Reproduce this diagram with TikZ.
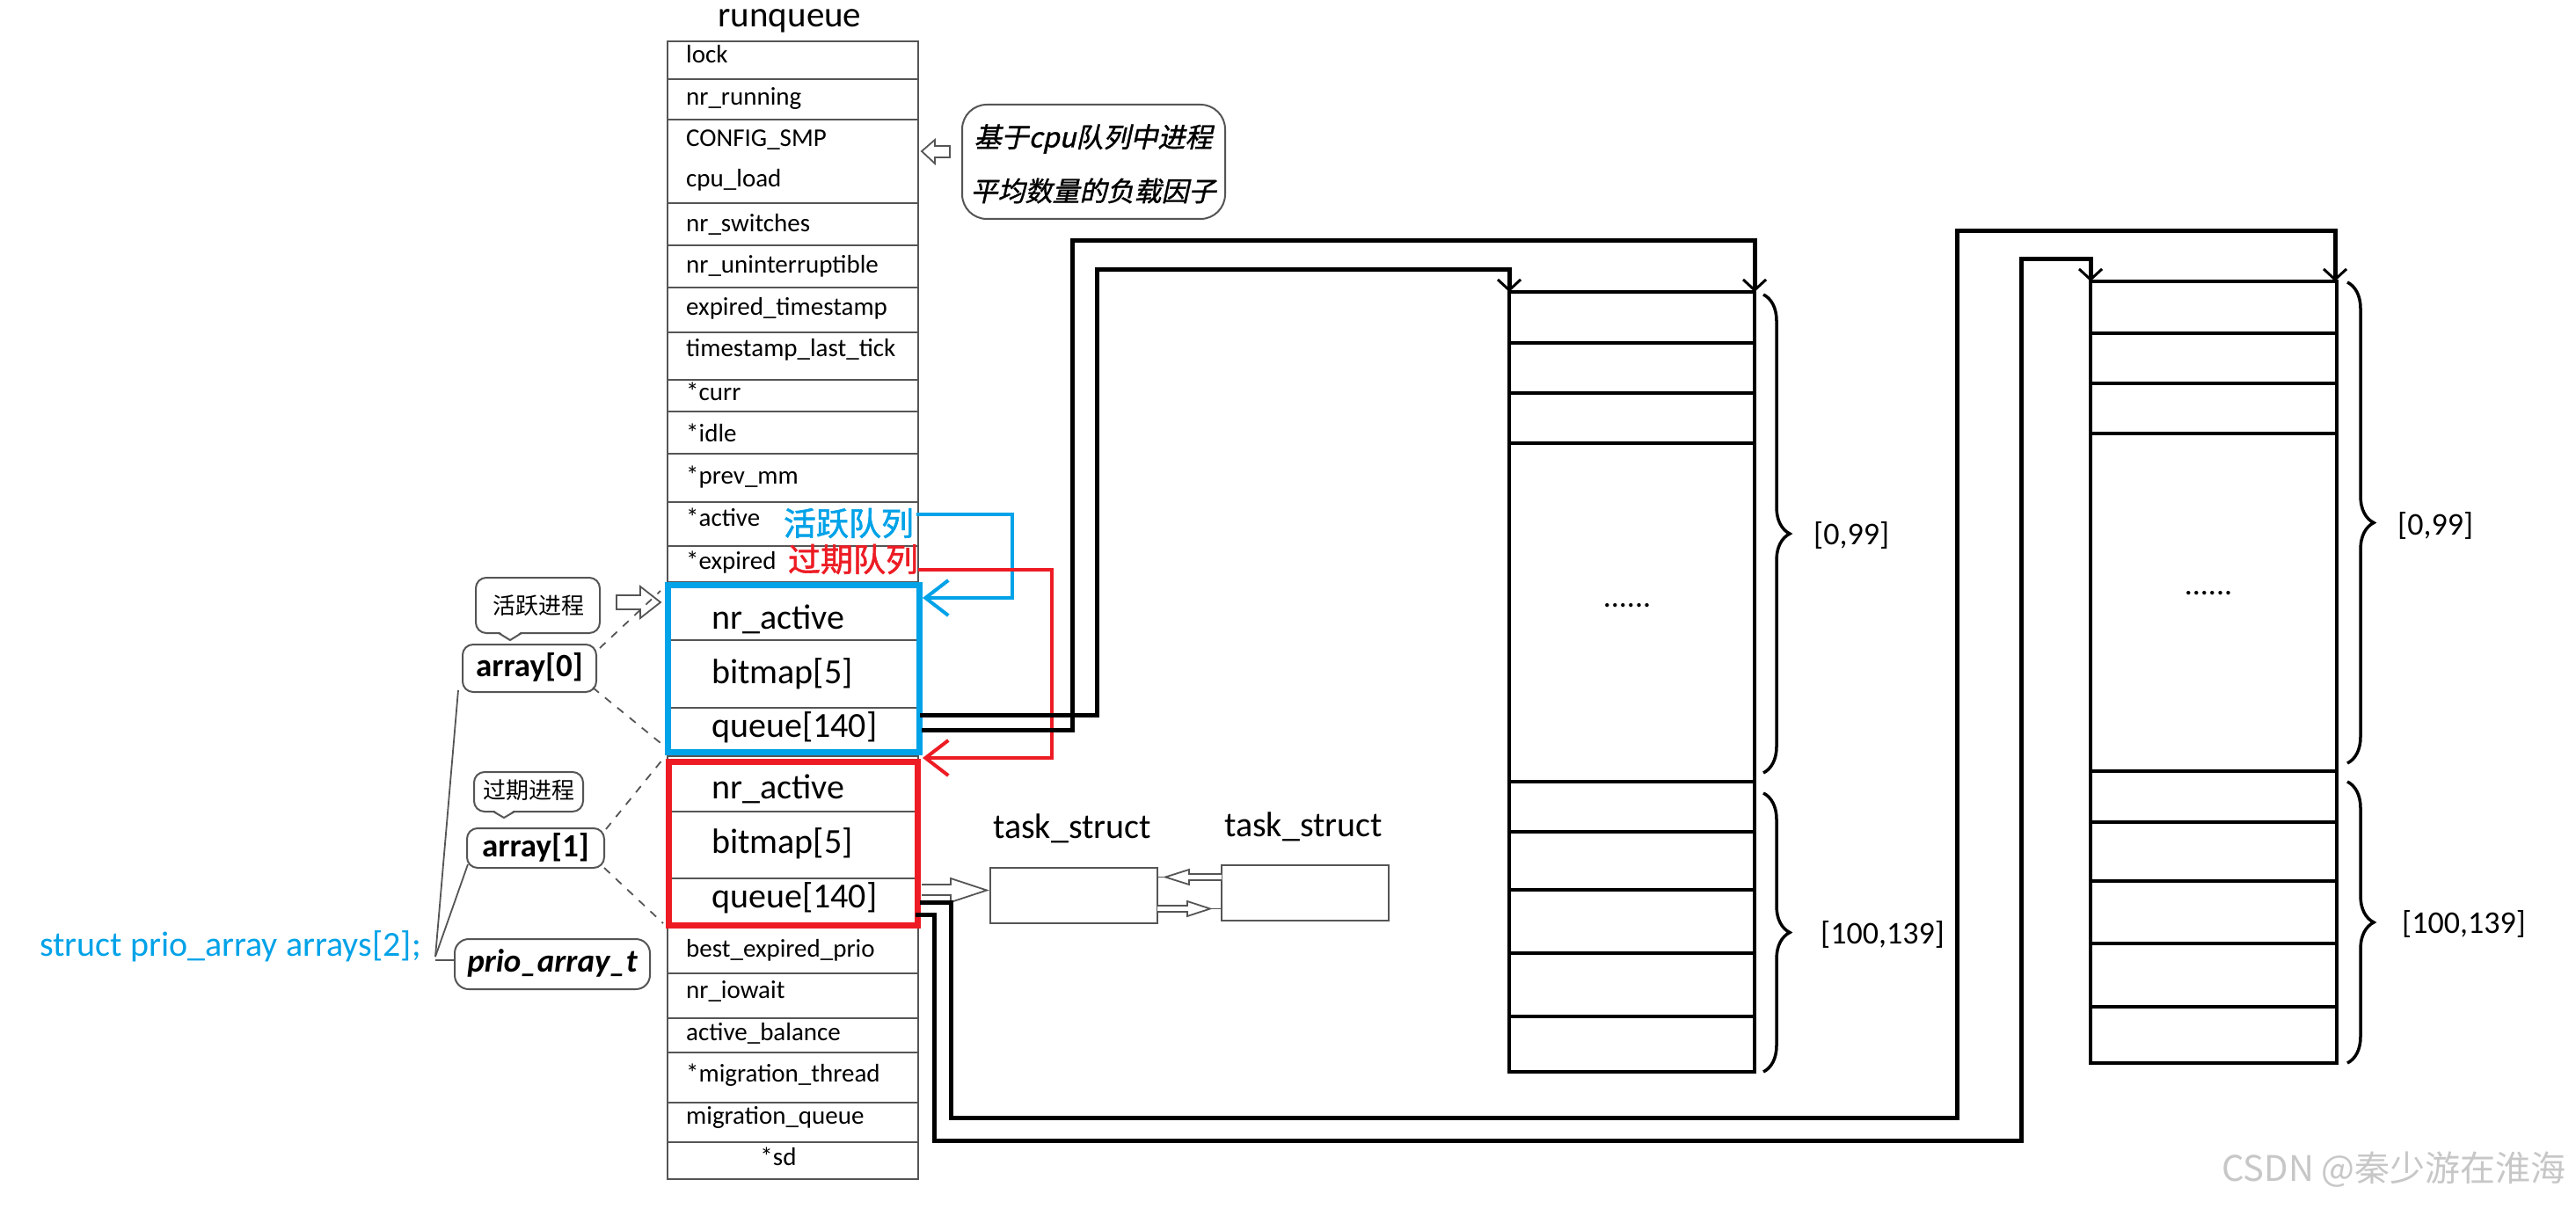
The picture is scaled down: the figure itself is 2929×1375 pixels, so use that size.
\documentclass[tikz,border=0pt]{standalone}
\usepackage{fontspec}
\setmainfont{Carlito}
\newfontfamily\cjk{Noto Sans CJK SC}
\newfontfamily\cjksl[FakeSlant=0.22,FakeBold=1.2]{Noto Sans CJK SC}
\newfontfamily\cjkb[FakeBold=1.5]{Noto Sans CJK SC}
\usetikzlibrary{arrows.meta,decorations.pathreplacing}
\definecolor{pblue}{RGB}{0,162,232}
\definecolor{pred}{RGB}{237,28,36}
\definecolor{tline}{RGB}{85,85,85}
\newcommand\fsz[1]{\fontsize{#1}{#1}\selectfont}
\tikzset{
  cell/.style={draw=tline, line width=2.5pt, minimum width=285pt, inner sep=0pt, outer sep=0pt, anchor=north west},
  lbl/.style={anchor=base west, inner sep=0pt, font=\fsz{29}},
  big/.style={anchor=base west, inner sep=0pt, font=\fsz{40}},
  bubble/.style={draw=tline, line width=2pt, rounded corners=12pt, inner sep=0pt, outer sep=0pt, anchor=north west},
  conn/.style={line width=5pt, line join=miter},
  downarrow/.style={-{Straight Barb[length=12pt,width=26pt,line width=3pt]}},
  tabbox/.style={draw, line width=4.5pt, inner sep=0pt, outer sep=0pt, anchor=north west, minimum width=279pt},
  tabline/.style={line width=4pt},
  hollow/.style={draw=tline, line width=1.8pt, fill=white, line join=miter},
  dashl/.style={draw=tline, line width=1.8pt, dash pattern=on 9pt off 9pt},
  thinl/.style={draw=tline, line width=1.8pt},
  brc/.style={decorate, decoration={brace, amplitude=30pt}, line width=3.5pt},
  rng/.style={anchor=west, inner sep=0pt, font=\fsz{36}},
  tsbox/.style={draw=tline, line width=2.2pt, minimum width=190pt, minimum height=63pt, inner sep=0pt, outer sep=0pt, anchor=north west},
  colarrow/.style={line width=4pt, line join=miter, -{Straight Barb[length=26pt,width=40pt]}},
}
\begin{document}
\begin{tikzpicture}[x=1pt,y=-1pt]
\useasboundingbox (0,0) rectangle (2929,1375);
\fill[white] (0,0) rectangle (2929,1375);

% ---------------- runqueue table ----------------
\node[font=\fsz{41}, anchor=base, inner sep=0pt] (title) at (898,31) {runqueue};
\foreach \nm/\t/\b in {c1/47/90, c2/90/136, c3/136/231, c4/231/279, c5/279/327, c6/327/378, c7/378/432, c8/432/468, c9/468/516, c10/516/571, c11/571/621, c12/621/662, ba1/662/728, ba2/728/805, ba3/805/860, ra1/860/923, ra2/923/999, ra3/999/1055, c13/1055/1107, c14/1107/1158, c15/1158/1197, c16/1197/1254, c17/1254/1299, c18/1299/1341}
  \node[cell, minimum height={\b-\t}] (\nm) at (759,\t) {};

\node[lbl] (l1) at (780,72) {lock};
\node[lbl] (l2) at (780,120) {nr\_running};
\node[lbl] (l3) at (780,167) {CONFIG\_SMP};
\node[lbl] (l4) at (780,213) {cpu\_load};
\node[lbl] (l5) at (780,263) {nr\_switches};
\node[lbl] (l6) at (780,310) {nr\_uninterruptible};
\node[lbl] (l7) at (780,358) {expired\_timestamp};
\node[lbl] (l8) at (780,405) {timestamp\_last\_tick};
\node[lbl] (l9) at (780,455) {*curr};
\node[lbl] (l10) at (780,502) {*idle};
\node[lbl] (l11) at (780,550) {*prev\_mm};
\node[lbl] (l12) at (780,598) {*active};
\node[lbl] (l13) at (780,647) {*expired};
\node[lbl] (l14) at (780,1088) {best\_expired\_prio};
\node[lbl] (l15) at (780,1135) {nr\_iowait};
\node[lbl] (l16) at (780,1183) {active\_balance};
\node[lbl] (l17) at (780,1230) {*migration\_thread};
\node[lbl] (l18) at (780,1278) {migration\_queue};
\node[lbl, anchor=base] (l19) at (885,1325) {*sd};

% active / expired arrays
\node[big] (an) at (809,715) {nr\_active};
\node[big] (ab) at (809,777) {bitmap[5]};
\node[big] (aq) at (809,838) {queue[140]};
\node[big] (en) at (809,908) {nr\_active};
\node[big] (eb) at (809,970) {bitmap[5]};
\node[big] (eq) at (809,1032) {queue[140]};
\draw[pblue, line width=7pt] (759,665) rectangle (1045,855);
\draw[pred, line width=7pt] (760,866) rectangle (1043,1052);

\node[font=\cjkb\fsz{37}, text=pblue, inner sep=0pt] (qa) at (965,595) {活跃队列};
\node[font=\cjkb\fsz{37}, text=pred, inner sep=0pt] (qe) at (970,636) {过期队列};

\coordinate (bs) at (1042,585);
\coordinate (be) at (1049,680);
\coordinate (rs) at (1044,648);
\coordinate (re) at (1049,862);
\draw[colarrow, pblue] (bs) -- (1151,585) -- (1151,680) -- (be);
\draw[colarrow, pred] (rs) -- (1196,648) -- (1196,862) -- (re);

% ---------------- load-factor callout ----------------
\node[draw=tline, line width=2pt, rounded corners=28pt, minimum width=299pt, minimum height=130pt, inner sep=0pt, anchor=north west] (load) at (1093,118) {};
\node[font=\cjksl\fsz{31}, inner sep=0pt] (load1) at (1243,158) {基于cpu队列中进程};
\node[font=\cjksl\fsz{31}, inner sep=0pt] (load2) at (1243,217) {平均数量的负载因子};
\draw[hollow] (1048,172) -- (1063,159) -- (1063,166) -- (1080,166) -- (1080,179) -- (1063,179) -- (1063,186) -- cycle;

% ---------------- left annotations ----------------
\node[bubble, minimum width=141pt, minimum height=63pt] (b0) at (541,657) {};
\node[font=\cjk\fsz{26}, inner sep=0pt] (b0t) at (612,689) {活跃进程};
\fill[white] (567,718) -- (580,728) -- (593,718) -- cycle;
\draw[thinl, line width=2pt] (567,720) -- (580,728) -- (593,720);
\node[bubble, minimum width=124pt, minimum height=45pt] (b1) at (539,878) {};
\node[font=\cjk\fsz{26}, inner sep=0pt] (b1t) at (601,899) {过期进程};
\fill[white] (561,921) -- (573,930) -- (585,921) -- cycle;
\draw[thinl, line width=2pt] (561,923) -- (573,930) -- (585,923);
\draw[hollow] (701,677) -- (728,677) -- (728,667) -- (751,685) -- (728,703) -- (728,693) -- (701,693) -- cycle;

\node[bubble, minimum width=152pt, minimum height=54pt] (a0) at (526,733) {};
\node[font=\bfseries\fsz{37}, inner sep=0pt] (a0t) at (602,759) {array[0]};
\node[bubble, minimum width=156pt, minimum height=45pt] (a1) at (531,942) {};
\node[font=\bfseries\fsz{37}, inner sep=0pt] (a1t) at (609,964) {array[1]};
\node[bubble, rounded corners=16pt, minimum width=222pt, minimum height=57pt] (pa) at (517,1068) {};
\node[font=\bfseries\itshape\fsz{37}, inner sep=0pt] (pat) at (628,1095) {prio\_array\_t};

\draw[dashl] (682,737) -- (751,672);
\draw[dashl] (674,782) -- (751,845);
\draw[dashl] (689,943) -- (754,863);
\draw[dashl] (687,987) -- (754,1050);

\node[font=\fsz{40}, text=pblue, anchor=base west, inner sep=0pt] (spa) at (45,1087) {struct prio\_array arrays[2];};
\coordinate (sj) at (495,1088);
\draw[thinl] (sj) -- (521,785);
\draw[thinl] (sj) -- (532,983);
\draw[thinl] (495,1092) -- (pa.west |- 0,1092);

% ---------------- task_struct list ----------------
\node[tsbox] (ts1) at (1126,987) {};
\node[tsbox] (ts2) at (1389,984) {};
\node[font=\fsz{40}, anchor=base, inner sep=0pt] (ts1l) at (1219,953) {task\_struct};
\node[font=\fsz{40}, anchor=base, inner sep=0pt] (ts2l) at (1482,951) {task\_struct};
\draw[hollow] (1048,1006) -- (1081,1006) -- (1081,999) -- (1122,1012.5) -- (1081,1026) -- (1081,1018) -- (1048,1018);
\draw[hollow] (1389,994) -- (1352,994) -- (1352,989) -- (1325,997.5) -- (1352,1006) -- (1352,1001) -- (1389,1001);
\draw[thinl] (1325,997.5) -- (1316,997.5);
\draw[hollow] (1316,1030) -- (1350,1030) -- (1350,1025) -- (1376,1033.5) -- (1350,1042) -- (1350,1037) -- (1316,1037);
\draw[thinl] (1376,1033.5) -- (1389,1033.5);

% ---------------- queue tables ----------------
\node[tabbox, minimum height=887pt] (tb1) at (1716,332) {};
\foreach \yy in {390,447,504,889,946,1012,1084,1156}
  \draw[tabline] (tb1.west |- 0,\yy) -- (tb1.east |- 0,\yy);
\node[font=\fsz{36}, anchor=base, inner sep=0pt] (d1) at (1850,690) {......};
\node[tabbox, minimum width=280pt, minimum height=889pt] (tb2) at (2377,320) {};
\foreach \yy in {379,436,493,877,935,1002,1073,1145}
  \draw[tabline] (tb2.west |- 0,\yy) -- (tb2.east |- 0,\yy);
\node[font=\fsz{36}, anchor=base, inner sep=0pt] (d2) at (2511,676) {......};

\draw[brc] (2005,335) -- (2005,879);
\draw[brc] (2005,902) -- (2005,1219);
\draw[brc] (2669,321) -- (2669,868);
\draw[brc] (2669,889) -- (2669,1209);
\node[rng] (r1) at (2062,609) {[0,99]};
\node[rng] (r2) at (2070,1063) {[100,139]};
\node[rng] (r3) at (2726,598) {[0,99]};
\node[rng] (r4) at (2731,1051) {[100,139]};

% ---------------- black connectors ----------------
\coordinate (qa1) at (1046,813);
\coordinate (qa2) at (1048,830);
\coordinate (qe1) at (1046,1026);
\coordinate (qe2) at (1041,1040);
\draw[conn, downarrow] (qa1) -- (1247,813) -- (1247,306) -- (1716,306) -- (tb1.north west);
\draw[conn, downarrow] (qa2) -- (1219,830) -- (1219,273) -- (1995,273) -- (tb1.north east);
\draw[conn, downarrow] (qe1) -- (1081,1026) -- (1081,1271) -- (2225,1271) -- (2225,262) -- (2655,262) -- (2655,320);
\draw[conn, downarrow] (qe2) -- (1062,1040) -- (1062,1297) -- (2298,1297) -- (2298,294) -- (2377,294) -- (tb2.north west);

% watermark
\node[font=\cjk\fsz{40}, text=black!22, anchor=east, inner sep=0pt] (wm) at (2918,1330) {CSDN @秦少游在淮海};
\end{tikzpicture}
\end{document}
